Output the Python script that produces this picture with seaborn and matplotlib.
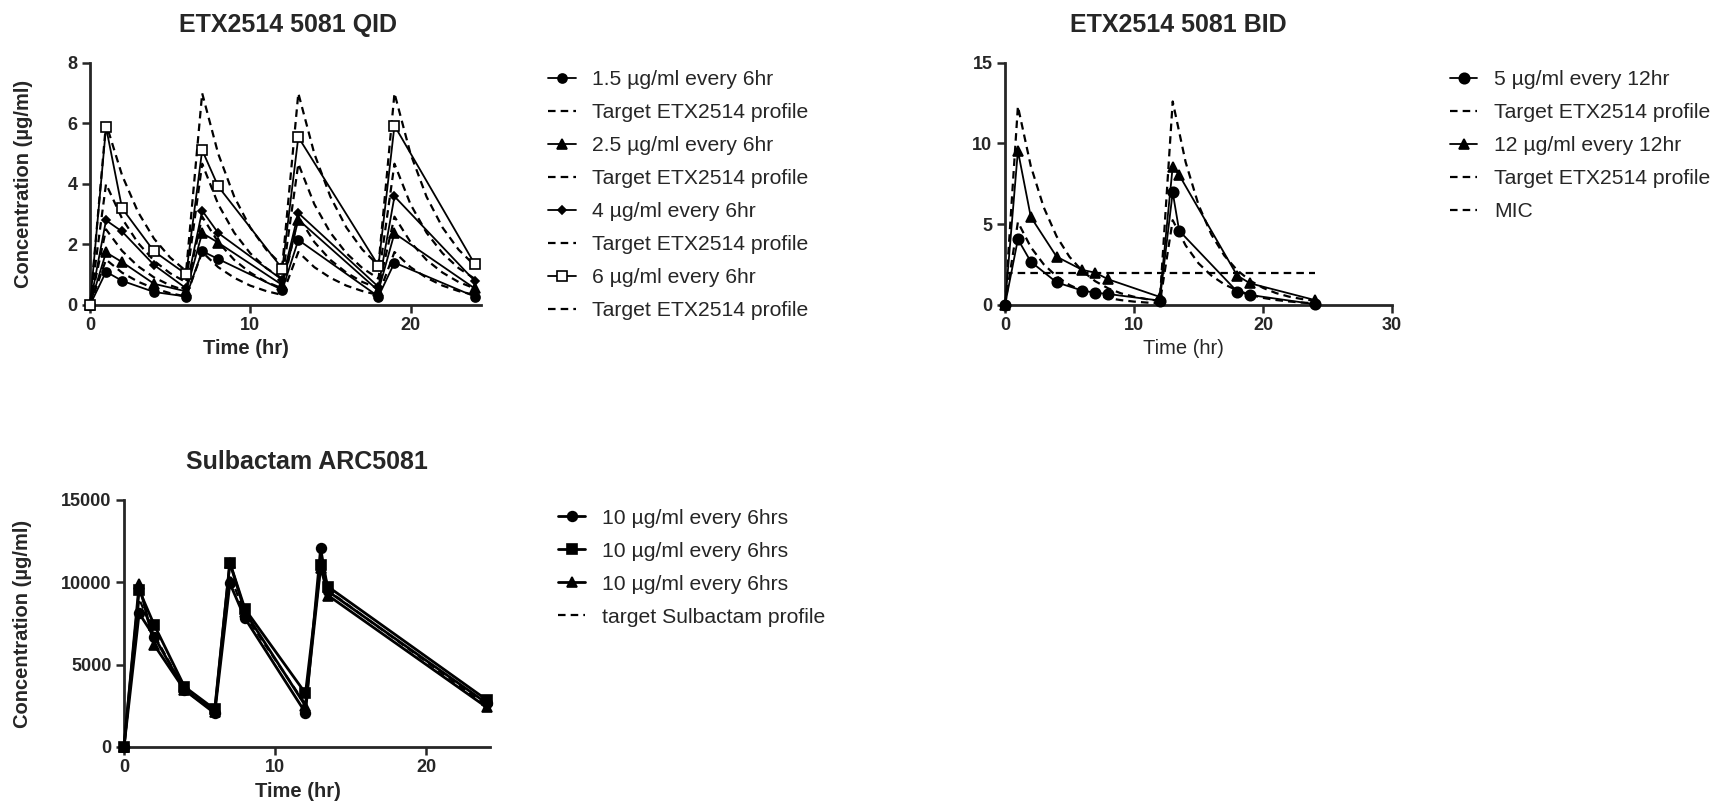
import matplotlib
matplotlib.use("Agg")
import matplotlib.pyplot as plt
import seaborn as sns
import pandas as pd

# ---------------- data ----------------
# ETX2514 5081 QID
t_qid = [0, 1, 2, 4, 6, 7, 8, 12, 13, 18, 19, 24]
qid_15 = [0, 1.10, 0.80, 0.43, 0.28, 1.78, 1.52, 0.50, 2.15, 0.28, 1.40, 0.28]
qid_25 = [0, 1.74, 1.42, 0.70, 0.45, 2.38, 2.06, 0.66, 2.82, 0.47, 2.37, 0.55]
qid_4 = [0, 2.80, 2.43, 1.32, 0.55, 3.12, 2.38, 0.83, 3.04, 0.60, 3.59, 0.80]
qid_6 = [0, 5.88, 3.20, 1.77, 1.02, 5.12, 3.92, 1.20, 5.55, 1.30, 5.93, 1.36]

t_target = [0, 1, 2, 3, 4, 5, 6, 7, 8, 9, 10, 11, 12,
            13, 14, 15, 16, 17, 18, 19, 20, 21, 22, 23, 24]
tgt_qid_15 = [0, 1.50, 1.07, 0.77, 0.55, 0.39, 0.28, 1.75, 1.25, 0.90, 0.64, 0.46, 0.33,
              1.75, 1.25, 0.90, 0.64, 0.46, 0.33, 1.75, 1.25, 0.90, 0.64, 0.46, 0.33]
tgt_qid_25 = [0, 2.50, 1.79, 1.28, 0.91, 0.65, 0.47, 2.92, 2.08, 1.49, 1.07, 0.76, 0.55,
              2.92, 2.08, 1.49, 1.07, 0.76, 0.55, 2.92, 2.08, 1.49, 1.07, 0.76, 0.55]
tgt_qid_4 = [0, 4.00, 2.86, 2.05, 1.46, 1.05, 0.75, 4.67, 3.33, 2.39, 1.71, 1.22, 0.87,
             4.67, 3.33, 2.39, 1.71, 1.22, 0.87, 4.67, 3.33, 2.39, 1.71, 1.22, 0.87]
tgt_qid_6 = [0, 6.00, 4.29, 3.07, 2.19, 1.57, 1.12, 7.00, 5.00, 3.58, 2.56, 1.83, 1.31,
             7.00, 5.00, 3.58, 2.56, 1.83, 1.31, 7.00, 5.00, 3.58, 2.56, 1.83, 1.31]
qid_labels = ["1.5 µg/ml every 6hr", "2.5 µg/ml every 6hr",
              "4 µg/ml every 6hr", "6 µg/ml every 6hr"]

# ETX2514 5081 BID
t_bid = [0, 1, 2, 4, 6, 7, 8, 12, 13, 13.5, 18, 19, 24]
bid_5 = [0, 4.07, 2.68, 1.40, 0.89, 0.76, 0.68, 0.27, 6.98, 4.60, 0.83, 0.62, 0.05]
bid_12 = [0, 9.55, 5.45, 2.99, 2.17, 2.00, 1.59, 0.50, 8.57, 8.05, 1.82, 1.34, 0.31]
tgt_bid_5 = [0, 5.13, 3.58, 2.52, 1.77, 1.24, 0.87, 0.61, 0.43, 0.30, 0.21, 0.15, 0.10,
             5.25, 3.69, 2.58, 1.82, 1.28, 0.90, 0.63, 0.44, 0.31, 0.22, 0.15, 0.11]
tgt_bid_12 = [0, 12.30, 8.60, 6.05, 4.25, 2.98, 2.10, 1.47, 1.03, 0.72, 0.51, 0.36, 0.25,
              12.60, 8.85, 6.20, 4.36, 3.06, 2.15, 1.51, 1.06, 0.74, 0.52, 0.37, 0.26]
t_mic = [0, 24]
mic = [2, 2]
bid_labels = ["5 µg/ml every 12hr", "12 µg/ml every 12hr"]

# Sulbactam ARC5081
t_sul = [0, 1, 2, 4, 6, 7, 8, 12, 13, 13.5, 24]
sul_a = [0, 8120, 6700, 3460, 2050, 9940, 7810, 2080, 12060, 9450, 2650]
sul_b = [0, 9530, 7410, 3660, 2290, 11200, 8380, 3260, 11050, 9730, 2850]
sul_c = [0, 9900, 6190, 3460, 2150, 11190, 8200, 2500, 10900, 9200, 2400]
sul_target = [0, 9000, 6800, 3500, 2100, 10500, 8000, 2600, 11200, 9500, 2500]
sul_label = "10 µg/ml every 6hrs"
target_label = "Target ETX2514 profile"

# ---------------- style ----------------
sns.set_theme(style="ticks")
plt.rcParams["font.family"] = ["Liberation Sans", "DejaVu Sans"]
plt.rcParams["axes.linewidth"] = 1.8

fig = plt.figure(figsize=(17.13, 8.09), dpi=100)
ax1 = fig.add_axes([0.05254, 0.6230, 0.22826, 0.29913])
ax2 = fig.add_axes([0.58669, 0.6230, 0.22592, 0.2995])
ax3 = fig.add_axes([0.07239, 0.07664, 0.21366, 0.30532])

K = "black"
DASH = (0, (3.4, 2.3))


def solid(ax, x, y, label, marker, ms, mfc=K, lw=1.3):
    sns.lineplot(x=x, y=y, ax=ax, color=K, lw=lw, marker=marker, ms=ms,
                 mfc=mfc, mec=K, mew=1.2, label=label, estimator=None,
                 errorbar=None, sort=False, clip_on=False, zorder=3)


def dashed(ax, x, y, label, lw=1.6):
    sns.lineplot(x=x, y=y, ax=ax, color=K, lw=lw, linestyle=DASH,
                 label=label, estimator=None, errorbar=None, sort=False,
                 clip_on=False, zorder=2)


# QID
solid(ax1, t_qid, qid_15, qid_labels[0], "o", 6.5)
dashed(ax1, t_target, tgt_qid_15, target_label)
solid(ax1, t_qid, qid_25, qid_labels[1], "^", 6.5)
dashed(ax1, t_target, tgt_qid_25, target_label)
solid(ax1, t_qid, qid_4, qid_labels[2], "D", 4.5)
dashed(ax1, t_target, tgt_qid_4, target_label)
solid(ax1, t_qid, qid_6, qid_labels[3], "s", 7.5, mfc="white")
dashed(ax1, t_target, tgt_qid_6, target_label)

# BID
solid(ax2, t_bid, bid_5, bid_labels[0], "o", 7.5)
dashed(ax2, t_target, tgt_bid_5, target_label)
solid(ax2, t_bid, bid_12, bid_labels[1], "^", 7.5)
dashed(ax2, t_target, tgt_bid_12, target_label)
dashed(ax2, t_mic, mic, "MIC")

# Sulbactam
solid(ax3, t_sul, sul_a, sul_label, "o", 7, lw=2.0)
solid(ax3, t_sul, sul_b, sul_label, "s", 7, lw=2.0)
solid(ax3, t_sul, sul_c, sul_label, "^", 7, lw=2.0)
dashed(ax3, t_sul, sul_target, "target Sulbactam profile")

# axes formatting
cfg = [
    (ax1, (0, 24.4), (0, 8), [0, 10, 20], [0, 2, 4, 6, 8],
     "ETX2514 5081 QID", 0.506, -0.146, 0.40, "bold"),
    (ax2, (0, 30), (0, 15), [0, 10, 20, 30], [0, 5, 10, 15],
     "ETX2514 5081 BID", 0.447, None, 0.46, "normal"),
    (ax3, (0, 24.2), (0, 15000), [0, 10, 20], [0, 5000, 10000, 15000],
     "Sulbactam ARC5081", 0.50, -0.251, 0.475, "bold"),
]
for ax, xl, yl, xt, yt, title, tx, ylx, xlx, xw in cfg:
    ax.set_xlim(*xl)
    ax.set_ylim(*yl)
    ax.set_xticks(xt)
    ax.set_yticks(yt)
    sns.despine(ax=ax)
    ax.spines["left"].set_linewidth(2.0)
    ax.spines["bottom"].set_linewidth(2.0)
    ax.tick_params(direction="out", length=6, width=1.8, labelsize=13, pad=3)
    for lbl in ax.get_xticklabels() + ax.get_yticklabels():
        lbl.set_fontweight("bold")
    ax.set_title(title, fontsize=18, fontweight="bold", x=tx, pad=22)
    ax.set_xlabel("Time (hr)", fontsize=14.5, fontweight=xw)
    ax.xaxis.set_label_coords(xlx, -0.14)
    if ylx is not None:
        ax.set_ylabel("Concentration (µg/ml)", fontsize=14.5, fontweight="bold")
        ax.yaxis.set_label_coords(ylx, 0.5)
    else:
        ax.set_ylabel("")

leg_pos = {ax1: (0.320, 0.913), ax2: (0.8465, 0.913), ax3: (0.3257, 0.371)}
for ax, pos in leg_pos.items():
    h, l = ax.get_legend_handles_labels()
    ax.legend(h, l, loc="upper left", bbox_to_anchor=pos,
              bbox_transform=fig.transFigure, frameon=False,
              fontsize=15.2, handlelength=1.3, handletextpad=0.8,
              labelspacing=0.66, borderpad=0, borderaxespad=0)

fig.savefig("out.png", dpi=100, facecolor="white")
